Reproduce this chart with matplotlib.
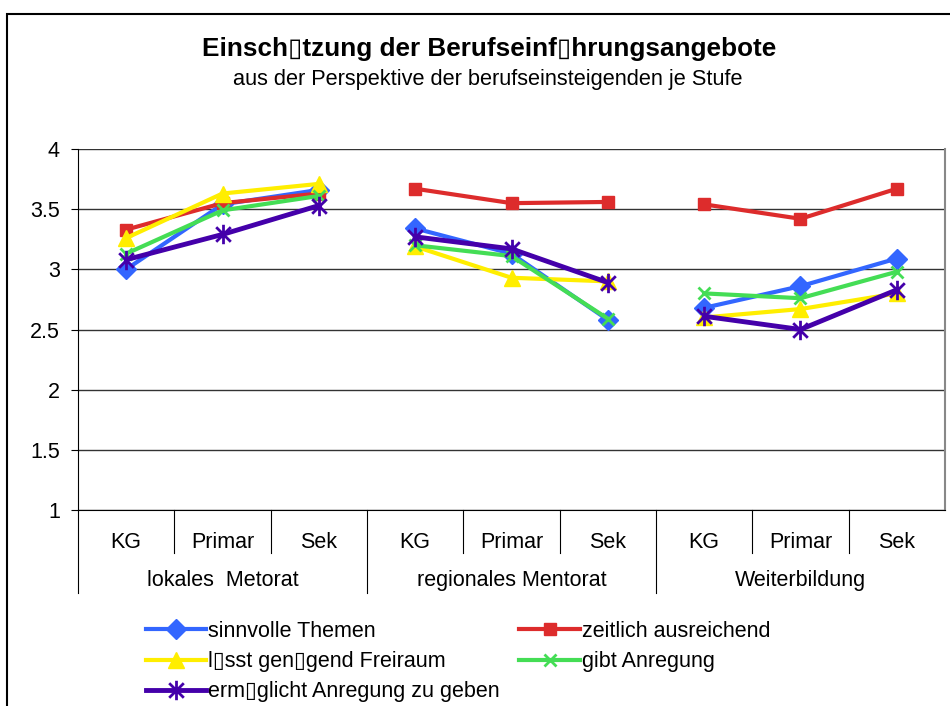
import matplotlib.pyplot as plt
from matplotlib.patches import Rectangle
from matplotlib.path import Path

plt.rcParams['font.family'] = ['Liberation Sans', 'DejaVu Sans']

BOX = '\u25af'

stufen = ['KG', 'Primar', 'Sek'] * 3
gruppen = ['lokales  Metorat', 'regionales Mentorat', 'Weiterbildung']

sinnvolle = [3.00, 3.54, 3.66, 3.34, 3.13, 2.58, 2.68, 2.86, 3.09]
zeitlich = [3.33, 3.55, 3.63, 3.67, 3.55, 3.56, 3.54, 3.42, 3.67]
freiraum = [3.26, 3.63, 3.71, 3.19, 2.93, 2.90, 2.60, 2.67, 2.80]
anregung = [3.13, 3.49, 3.61, 3.20, 3.11, 2.59, 2.80, 2.76, 2.98]
ermoeglicht = [3.08, 3.29, 3.53, 3.27, 3.17, 2.89, 2.61, 2.50, 2.83]

# excel style star: X plus a vertical bar
star = Path([(0, -1), (0, 1), (-0.75, -0.75), (0.75, 0.75), (-0.75, 0.75), (0.75, -0.75)],
            [Path.MOVETO, Path.LINETO, Path.MOVETO, Path.LINETO, Path.MOVETO, Path.LINETO])

series = [
    ('sinnvolle Themen', sinnvolle, '#3366ff', 'D', 10, 3.0),
    ('zeitlich ausreichend', zeitlich, '#dd2c2c', 's', 8.5, 3.0),
    ('l' + BOX + 'sst gen' + BOX + 'gend Freiraum', freiraum, '#ffee00', '^', 12, 3.0),
    ('gibt Anregung', anregung, '#44dd55', 'x', 9, 3.0),
    ('erm' + BOX + 'glicht Anregung zu geben', ermoeglicht, '#4400aa', star, 14, 3.5),
]

fig = plt.figure(figsize=(9.5, 7.06), dpi=100)
ax = fig.add_axes([78 / 950, 1 - 510 / 706, 867 / 950, 361 / 706])

x = list(range(len(stufen)))
lines = {}
for name, vals, color, marker, ms, lw in series:
    mew = 2 if marker == 'x' or marker is star else 1
    ln = None
    for g in (0, 1, 2):
        ln, = ax.plot(x[3 * g:3 * g + 3], vals[3 * g:3 * g + 3], color=color, lw=lw,
                      marker=marker, ms=ms, mew=mew, mec=color, mfc=color)
    lines[name] = ln

ax.set_xlim(-0.5, len(stufen) - 0.5)
ax.set_ylim(1, 4)
ax.set_yticks([1, 1.5, 2, 2.5, 3, 3.5, 4])
ax.set_yticklabels(['1', '1.5', '2', '2.5', '3', '3.5', '4'], fontsize=15.5)
ax.yaxis.grid(True, color='#333333', lw=1)
ax.set_axisbelow(True)
ax.set_xticks([])
ax.tick_params(axis='y', length=5, direction='out', pad=8)
ax.spines['top'].set_visible(False)
ax.spines['right'].set_color('#888888')
ax.spines['right'].set_linewidth(1.5)
ax.spines['left'].set_color('black')
ax.spines['bottom'].set_color('black')

# category table under the axis
tr = ax.get_xaxis_transform()
for i, lab in enumerate(stufen):
    ax.text(i, -0.09, lab, transform=tr, ha='center', va='center', fontsize=15.5)
for i in range(len(stufen) - 1):
    bottom = -0.23 if (i + 1) % 3 == 0 else -0.12
    ax.plot([i + 0.5, i + 0.5], [0, bottom], transform=tr, color='black', lw=0.8, clip_on=False)
ax.plot([-0.5, -0.5], [0, -0.23], transform=tr, color='black', lw=0.8, clip_on=False)
for g, lab in enumerate(gruppen):
    ax.text(3 * g + 1, -0.196, lab, transform=tr, ha='center', va='center', fontsize=15.5)

fig.text(0.515, 1 - 49 / 706, 'Einsch' + BOX + 'tzung der Berufseinf' + BOX + 'hrungsangebote',
         ha='center', va='center', fontsize=18.8, fontweight='bold')
fig.text(0.513, 1 - 80 / 706, 'aus der Perspektive der berufseinsteigenden je Stufe',
         ha='center', va='center', fontsize=15.7)

order = [series[0][0], series[2][0], series[4][0], series[1][0], series[3][0]]
fig.legend([lines[n] for n in order], order, ncol=2, frameon=False, fontsize=15.5,
           loc='upper left', bbox_to_anchor=(146 / 950, 1 - 621 / 706),
           handlelength=2.8, handletextpad=0.1, columnspacing=0.9, labelspacing=0.42,
           borderaxespad=0, borderpad=0)

fig.patches.append(Rectangle((7 / 950, -0.05), 1.0, 1 - 14 / 706 + 0.05, transform=fig.transFigure,
                             fill=False, ec='black', lw=1.5))

fig.savefig('out.png', dpi=100)
